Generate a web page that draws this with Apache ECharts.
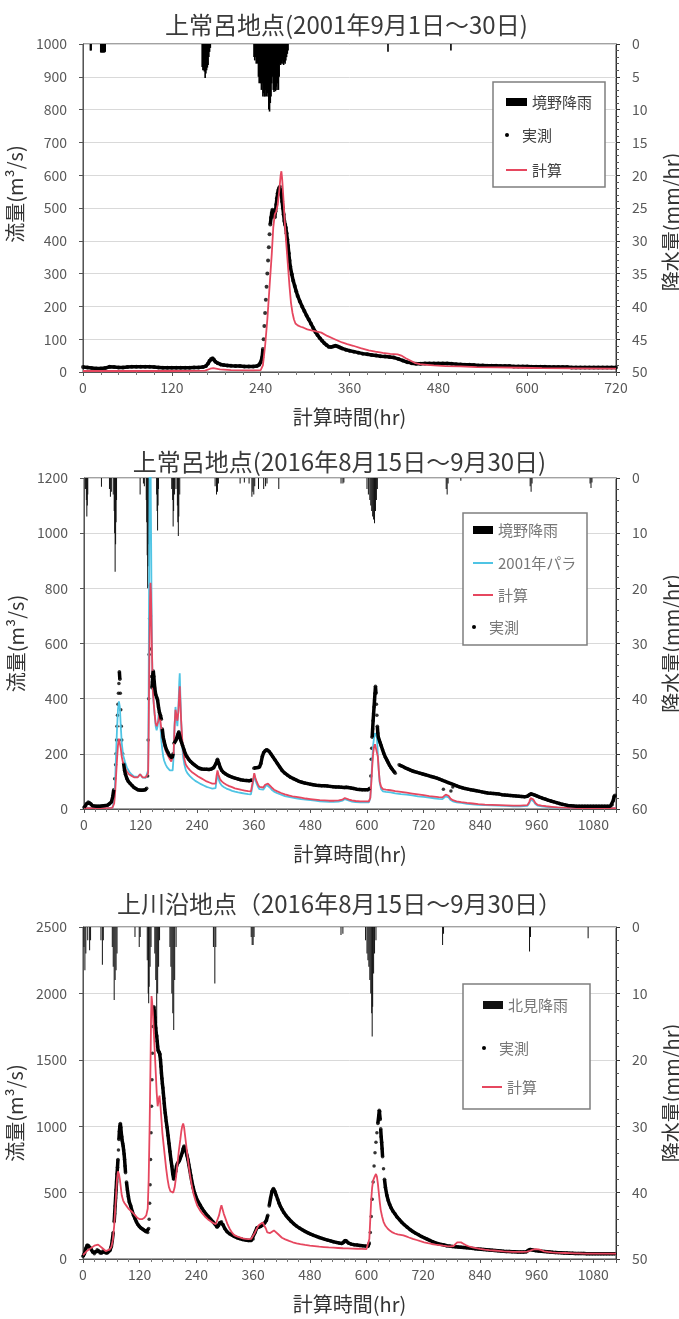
<!DOCTYPE html>
<html>
<head>
<meta charset="utf-8">
<script src="https://cdn.jsdelivr.net/npm/echarts@6/dist/echarts.min.js"></script>
<style>
  html, body { margin: 0; padding: 0; background: #fff; }
  #main { width: 679px; height: 1319px; }
</style>
</head>
<body>
<div id="main"></div>
<script>
// ---- data (hour, value) ----
// 上常呂 2001
var rain1 = [[10,1.0],[11,1.0],[24,1.3],[25,1.3],[26,1.3],[27,1.3],[28,1.3],[29,1.3],[30,1.2],
  [161,3.5],[162,4.0],[163,4.0],[164,4.2],[165,5.2],[166,4.5],[167,4.0],[168,3.6],[169,3.2],[170,2.0],[171,1.2],[172,0.6],
  [231,2.0],[232,2.5],[233,2.0],[234,3.0],[235,2.5],[236,3.0],[237,5.0],[238,6.0],[239,5.5],[240,6.0],[241,7.0],[242,6.0],
  [243,8.0],[244,7.5],[245,8.0],[246,8.0],[247,7.0],[248,8.0],[249,7.5],[250,8.0],[251,10.0],[252,10.3],[253,9.0],[254,8.0],
  [255,6.0],[256,5.0],[257,7.0],[258,7.3],[259,7.0],[260,7.2],[261,6.5],[262,7.0],[263,6.0],[264,7.0],[265,5.0],[266,3.0],
  [267,3.2],[268,3.0],[269,2.5],[270,3.0],[271,3.2],[272,2.8],[273,3.0],[274,2.5],[275,2.0],[276,1.5],[277,1.0],
  [412,1.2],[497,1.0]];
var obs1 = [[0,15],[6,14],[12,12],[18,11],[24,11],[30,12],[36,16],[42,15],[48,14],[54,14],[60,15],[66,16],[72,16],[78,16],
  [84,16],[90,16],[96,15],[102,14],[108,13],[114,13],[120,13],[126,13],[132,13],[138,13],[144,13],[150,14],[156,14],[162,15],
  [166,18],[169,26],[171,34],[173,40],[175,42],[177,37],[179,31],[182,27],[186,23],[190,21],[195,20],[200,19],[206,18],[212,18],
  [218,17],[224,17],[230,17],[235,18],[238,22],[240,30],[242,45],[243,70],[244,100],[245,140],[246,180],[247,220],[248,260],
  [249,300],[250,340],[251,380],[252,420],[253,450],[254,470],[255,485],[256,495],[257,490],[258,480],[259,472],[260,490],
  [261,510],[262,530],[263,545],[264,555],[265,562],[266,565],[267,555],[268,540],[269,520],[270,500],[271,480],[272,460],
  [273,450],[274,440],[275,423],[276,405],[277,385],[278,362],[279,340],[280,322],[282,298],[284,278],[286,262],[288,246],
  [290,232],[293,215],[296,200],[299,186],[302,172],[305,160],[308,147],[311,134],[314,122],[317,112],[320,103],[323,95],
  [326,88],[329,82],[332,77],[335,76],[338,78],[341,80],[344,78],[347,75],[350,72],[355,68],[360,65],[366,62],[372,59],
  [378,56],[384,54],[390,52],[396,50],[402,48],[408,47],[414,46],[420,44],[426,40],[432,35],[438,30],[444,27],[450,25],
  [456,25],[462,26],[468,26],[474,26],[480,26],[486,26],[492,26],[498,25],[504,24],[510,23],[516,22],[522,22],[528,21],
  [534,20],[540,20],[546,19],[552,19],[558,19],[564,18],[570,18],[576,18],[582,17],[588,17],[594,17],[600,17],[606,16],
  [612,16],[618,16],[624,16],[630,15],[636,15],[642,15],[648,15],[654,15],[660,14],[666,14],[672,14],[678,14],[684,14],
  [690,14],[696,14],[702,14],[708,14],[714,14],[720,14]];
var calc1 = [[0,3],[60,3],[120,3],[165,4],[172,10],[176,12],[185,8],[200,6],[230,5],[240,6],[243,20],[246,80],[249,160],
  [252,260],[255,360],[257,440],[259,480],[261,490],[263,510],[265,550],[267,600],[268,612],[269,590],[271,520],[273,440],
  [275,380],[277,320],[279,260],[281,210],[283,180],[285,160],[287,148],[290,142],[294,138],[298,135],[303,130],[310,126],
  [316,123],[322,120],[330,110],[340,100],[350,90],[357,85],[365,80],[375,73],[386,66],[395,62],[405,58],[415,55],[425,54],
  [430,50],[436,42],[442,35],[448,28],[455,24],[465,22],[474,20],[490,18],[510,17],[532,15],[560,14],[591,13],[620,12],
  [660,11],[720,10]];

// 上常呂 2016
var rain2 = [[3,2],[5,4],[6,7],[7,5],[8,3],[37,1.6],[54,2],[56,3.4],[58,2.5],[62,3],[64,6],[65,10],[66,17],[67,12],[68,8],
  [69,4],[119,3],[126,1],[128,1.5],[132,4],[133,8],[134,14],[135,20],[136,16],[137,12],[138,8],[139,5],[140,3],[154,3],
  [155,6],[156,9.5],[157,5],[158,2],[186,2],[188,4],[189,8.8],[190,6],[192,3],[195,2],[198,5],[199,8],[200,10.5],[201,7],
  [203,3],[278,1.5],[281,3],[283,2.5],[285,1],[331,1],[340,0.8],[350,1],[356,3.4],[358,2.5],[360,3],[362,1.5],[370,2],
  [381,2],[385,1.5],[388,1],[413,2],[545,1],[549,1],[551,0.8],[600,2],[603,3],[606,4],[608,5],[610,6],[612,7],[614,7.5],
  [616,8.2],[618,6],[620,4],[622,2],[768,2],[770,3],[772,1],[799,0.5],[946,1.5],[948,2.5],[950,1],[1073,1],[1075,1.8],[1077,0.8]];
var obs2 = [[0,5],[3,10],[6,20],[9,25],[12,22],[15,18],[18,12],[22,10],[26,10],[30,10],[34,10],[38,11],[42,12],[46,12],
  [50,14],[54,18],[58,25],[61,45],[63,70],[65,110],[67,160],[68,200],[69,250],[70,300],[71,340],[72,380],[73,420],[74,455],
  [75,498],[76,470],[77,420],[78,360],[79,300],[80,250],[82,200],[84,165],[86,140],[88,125],[91,110],[94,100],[98,92],
  [102,85],[106,78],[110,74],[114,70],[118,68],[122,68],[126,68],[130,70],[133,75],[135,120],[136,250],[137,400],[138,560],
  [139,690],[140,810],[141,700],[142,580],[143,480],[144,440],[145,460],[146,490],[147,500],[148,480],[149,460],[150,440],
  [152,415],[154,405],[156,395],[158,370],[160,350],[162,340],[164,325],[166,290],[168,260],[170,245],[172,230],[175,215],
  [178,205],[181,195],[184,188],[187,185],[189,200],[191,238],[193,245],[195,250],[197,255],[199,270],[201,280],[203,265],
  [205,250],[207,240],[209,230],[212,215],[215,200],[218,190],[222,180],[226,172],[230,165],[234,160],[238,155],[242,150],
  [246,146],[250,145],[255,144],[260,144],[265,143],[270,145],[275,150],[280,165],[283,180],[286,165],[289,150],[292,140],
  [296,132],[300,127],[305,122],[310,118],[315,115],[320,112],[326,109],[332,106],[338,104],[344,103],[350,102],[356,105],
  [360,148],[363,150],[366,150],[369,150],[372,152],[375,165],[378,190],[381,205],[384,212],[387,215],[390,213],[393,208],
  [396,200],[400,190],[405,178],[410,165],[415,152],[420,140],[426,130],[432,122],[438,115],[444,110],[450,105],[456,100],
  [462,97],[468,94],[474,92],[480,90],[486,88],[492,86],[498,85],[504,84],[510,84],[516,83],[522,82],[528,81],[534,80],
  [540,80],[546,79],[552,78],[556,80],[560,78],[566,76],[572,74],[578,72],[584,71],[590,70],[596,70],[602,70],[606,75],
  [608,120],[609,180],[610,220],[611,260],[612,290],[613,320],[614,345],[615,370],[616,395],[617,420],[618,445],[619,420],
  [620,380],[621,340],[622,300],[623,275],[624,260],[626,250],[628,240],[630,230],[633,215],[636,200],[639,188],[642,178],
  [645,168],[648,158],[651,150],[654,143],[657,136],[660,130],
  [668,160],[672,157],[676,154],[680,150],[684,147],[688,144],[692,141],[696,138],[700,136],[706,133],[712,130],[718,127],
  [724,124],[730,121],[736,118],[742,115],[748,112],[754,108],[760,104],[766,100],[772,96],[778,92],
  [784,88],[790,84],[796,80],[802,77],[808,74],[814,72],[820,70],[826,68],[832,66],[838,64],[844,62],[850,60],
  [856,58],[862,57],[868,56],[874,55],[880,54],[886,52],[892,51],[898,50],[904,49],[910,48],[916,47],[922,46],[928,45],
  [934,44],[940,46],[944,52],[948,55],[952,53],[956,50],[960,47],[966,43],[972,39],[978,36],[984,32],[990,29],[996,26],
  [1002,23],[1008,20],[1014,17],[1020,15],[1026,13],[1032,12],[1038,11],[1044,10],[1050,10],[1056,10],[1062,10],[1068,10],
  [1074,10],[1080,10],[1086,10],[1092,10],[1098,10],[1104,10],[1110,10],[1116,10],[1120,15],[1122,30],[1124,45],[1126,50]];
var obs2Stray = [[762,72],[778,65],[782,80]];
var calc2 = [[0,3],[20,3],[40,3],[60,4],[64,20],[66,60],[68,120],[70,180],[72,230],[74,255],[75,260],[76,250],[78,220],
  [80,190],[83,165],[87,150],[91,135],[96,125],[101,120],[106,115],[110,112],[114,115],[117,122],[119,126],[121,120],
  [124,115],[128,112],[131,115],[134,122],[136,130],[137,250],[138,450],[139,620],[140,760],[141,820],[142,780],[143,680],
  [144,580],[145,500],[146,430],[148,380],[150,340],[152,310],[154,300],[156,298],[158,320],[160,350],[162,320],[164,290],
  [166,265],[168,245],[170,228],[173,212],[176,200],[179,190],[182,180],[185,172],[188,168],[190,200],[192,300],[194,360],
  [196,340],[198,320],[200,350],[202,420],[203,445],[204,400],[206,320],[208,260],[210,215],[213,180],[216,160],[220,150],
  [225,140],[230,132],[236,125],[242,118],[248,112],[254,106],[260,100],[266,96],[272,92],[276,90],[279,92],[281,120],
  [283,140],[285,125],[288,110],[292,100],[297,93],[302,88],[308,83],[314,79],[320,75],[327,72],[334,69],[341,67],[348,65],
  [354,64],[357,66],[359,110],[361,130],[363,115],[366,100],[369,88],[372,80],[376,76],[380,78],[384,88],[387,95],[390,92],
  [394,85],[398,78],[403,70],[410,64],[418,58],[426,53],[434,49],[442,46],[450,44],[460,41],[470,38],[480,36],[490,34],
  [500,32],[510,31],[520,30],[530,30],[540,31],[548,34],[553,40],[557,40],[562,34],[568,31],[576,29],[586,28],[596,28],
  [604,28],[607,40],[609,90],[611,150],[613,200],[615,225],[617,235],[619,242],[621,230],[623,190],[625,140],[627,100],
  [630,80],[634,72],[640,70],[650,68],[660,65],[672,62],[684,59],[696,56],[708,53],[720,50],[732,47],[742,45],[752,43],
  [760,42],[764,44],[767,52],[770,57],[773,48],[777,38],[782,32],[790,28],[800,25],[812,22],[824,20],[836,18],[850,16],
  [865,15],[880,14],[895,13],[910,12],[925,12],[940,14],[944,25],[947,40],[950,45],[953,34],[957,22],[962,15],[970,12],
  [980,10],[992,8],[1004,6],[1016,5],[1030,4],[1050,3],[1070,3],[1090,3],[1110,3],[1128,3]];
var para2 = [[0,3],[40,3],[60,4],[64,30],[66,100],[68,200],[70,290],[72,360],[74,390],[75,395],[76,370],[78,300],[80,240],
  [83,195],[87,170],[91,150],[96,135],[101,125],[106,118],[110,114],[114,116],[117,123],[119,126],[121,120],[124,114],
  [128,110],[131,113],[134,120],[136,140],[137,400],[138,800],[139,1200],[140,1350],[141,1300],[142,1050],[143,800],
  [144,600],[145,480],[146,420],[148,380],[150,340],[152,300],[154,285],[156,300],[158,340],[160,360],[162,300],[164,250],
  [166,215],[168,190],[170,175],[173,162],[176,152],[179,146],[182,140],[185,136],[188,140],[190,190],[192,300],[194,370],
  [196,330],[198,300],[200,360],[202,460],[203,492],[204,430],[206,320],[208,240],[210,190],[213,160],[216,140],[220,128],
  [225,118],[230,110],[236,102],[242,96],[248,90],[254,85],[260,80],[266,77],[272,74],[276,73],[279,76],[281,105],[283,125],
  [285,110],[288,95],[292,85],[297,79],[302,74],[308,70],[314,66],[320,63],[327,60],[334,58],[341,56],[348,54],[354,53],
  [357,56],[359,100],[361,125],[363,108],[366,92],[369,80],[372,72],[376,68],[380,70],[384,80],[387,88],[390,85],[394,78],
  [398,70],[403,63],[410,57],[418,52],[426,47],[434,44],[442,41],[450,39],[460,36],[470,34],[480,32],[490,30],[500,28],
  [510,27],[520,26],[530,26],[540,27],[548,30],[553,36],[557,36],[562,30],[568,27],[576,25],[586,24],[596,24],[604,24],
  [607,40],[609,100],[611,170],[613,230],[615,260],[617,275],[619,280],[621,260],[623,200],[625,140],[627,95],[630,72],
  [634,64],[640,62],[650,60],[660,57],[672,54],[684,52],[696,49],[708,46],[720,44],[732,41],[742,39],[752,37],[760,36],
  [764,38],[767,46],[770,50],[773,42],[777,33],[782,28],[790,24],[800,22],[812,19],[824,17],[836,15],[850,14],[865,13],
  [880,12],[895,11],[910,10],[925,10],[940,11],[944,20],[947,34],[950,38],[953,28],[957,18],[962,12],[970,10],[980,8],
  [992,6],[1004,5],[1016,4],[1030,3],[1050,3],[1128,3]];

// 上川沿 2016
var rain3 = [[2,3],[4,6.5],[6,4],[10,2],[14,3.5],[16,2],[38,2],[41,5.7],[43,2],[62,3],[64,6],[66,11],[68,8],[70,6.5],
  [72,4],[110,1.5],[119,3],[121,1.5],[136,5],[138,10],[139,11.5],[140,9],[142,6],[144,3],[152,4],[154,8],[156,14.5],
  [158,10],[160,6],[162,2],[184,3],[186,6],[188,10],[190,13],[192,15.5],[194,8],[197,3],[276,3],[279,8.5],[281,3],
  [356,1.5],[358,2.7],[360,2.7],[362,1.5],[546,1.2],[550,1],[598,2],[601,4],[603,5],[605,6],[607,8],[609,10],[611,13],
  [612,16.5],[613,12],[615,7],[617,4],[620,2],[761,2.7],[763,1],[945,3.7],[947,1.5],[1069,1.7]];
var obs3 = [[0,20],[3,40],[6,80],[9,105],[12,100],[15,85],[18,70],[21,50],[24,40],[27,55],[30,70],[33,60],[36,45],[39,45],
  [42,60],[45,55],[48,45],[51,45],[54,55],[57,65],[60,95],[62,140],[64,200],[66,280],[67,340],[68,400],[69,460],[70,520],
  [71,580],[72,640],[73,690],[74,750],[75,820],[76,900],[77,960],[78,1000],[79,1020],[80,990],[81,950],[82,920],[83,890],
  [84,870],[85,850],[86,820],[87,790],[88,750],[89,700],[90,650],[92,580],[94,520],[96,470],[98,430],[101,400],[104,360],
  [107,330],[110,305],[113,280],[116,260],[119,245],[122,235],[125,228],[128,220],[131,212],[134,205],[137,200],[139,230],
  [140,300],[141,420],[142,560],[143,750],[144,950],[145,1150],[146,1350],[147,1550],[148,1750],[149,1880],[150,1900],
  [151,1860],[152,1820],[153,1780],[154,1740],[155,1700],[156,1680],[157,1640],[158,1600],[159,1570],[160,1560],[161,1560],
  [162,1550],[163,1540],[164,1500],[165,1450],[166,1400],[167,1360],[168,1320],[169,1290],[170,1250],[171,1210],[172,1170],
  [173,1130],[174,1100],[175,1070],[176,1040],[178,990],[180,930],[182,870],[184,810],[186,750],[188,700],[190,640],
  [192,600],[194,620],[196,660],[198,700],[200,720],[202,730],[204,740],[206,760],[208,780],[210,800],[212,830],[214,850],
  [216,840],[218,810],[220,780],[222,750],[224,710],[226,670],[228,630],[230,590],[233,540],[236,500],[240,460],[244,430],
  [248,405],[252,380],[256,360],[260,340],[265,320],[270,300],[275,280],[280,260],[284,240],[287,250],[290,275],[293,280],
  [296,260],[300,230],[305,205],[310,190],[315,180],[320,170],[326,160],[332,153],[338,147],[344,143],[350,140],[356,140],
  [360,150],[364,200],[368,235],[372,240],[376,245],[380,255],[384,270],[388,290],[391,330],[394,400],[397,460],[400,510],
  [403,530],[406,510],[409,480],[412,450],[415,420],[418,395],[421,375],[425,350],[430,325],[435,305],[440,285],[446,265],
  [452,248],[458,233],[464,220],[470,208],[476,197],[482,187],[488,178],[494,170],[500,162],[506,155],[512,148],[518,142],
  [524,136],[530,130],[536,125],[542,120],[548,117],[552,125],[555,140],[558,135],[562,120],[568,112],[574,108],[580,105],
  [586,102],[592,99],[598,97],[603,95],[606,120],[608,200],[610,320],[612,450],[614,580],[616,700],[618,800],[620,880],
  [622,950],[624,1020],[626,1080],[627,1120],[628,1110],[629,1050],[630,980],[631,920],[632,880],[633,830],[634,770],
  [636,680],[638,600],[640,540],[643,480],[646,440],[649,410],[652,385],[656,360],[660,340],[665,315],[670,295],[675,275],
  [680,258],[686,240],[692,222],[698,207],[704,194],[710,182],[716,170],[722,160],[728,150],[734,140],[740,130],[746,122],
  [752,115],[758,110],[764,105],[770,100],[776,97],[782,94],[788,92],[794,90],[800,88],[806,86],[812,84],[818,82],[824,80],
  [830,78],[836,76],[842,74],[848,72],[854,70],[860,68],[866,66],[872,64],[878,62],[884,60],[890,58],[896,57],[902,56],
  [908,55],[914,54],[920,53],[926,52],[932,52],[938,55],[942,65],[946,72],[950,70],[954,66],[958,62],[964,60],[970,58],
  [976,56],[982,54],[988,52],[994,50],[1000,49],[1006,48],[1012,47],[1018,46],[1024,45],[1030,44],[1036,43],[1042,42],
  [1048,42],[1054,41],[1060,41],[1066,40],[1072,40],[1078,40],[1084,40],[1090,40],[1096,40],[1102,40],[1108,40],[1114,40],
  [1120,40],[1126,40]];
var calc3 = [[0,30],[4,40],[8,60],[12,70],[16,80],[20,90],[24,100],[28,110],[32,108],[36,100],[40,85],[44,70],[48,60],
  [52,62],[56,70],[60,90],[63,140],[66,250],[69,420],[72,600],[74,660],[76,640],[78,600],[80,540],[82,480],[85,440],
  [88,420],[92,400],[96,380],[100,370],[105,350],[110,330],[115,310],[120,300],[125,300],[130,310],[134,330],[137,380],
  [139,600],[141,1000],[143,1500],[144,1800],[145,1980],[146,1950],[148,1850],[150,1700],[152,1550],[154,1400],[156,1250],
  [158,1150],[160,1200],[162,1230],[164,1150],[166,1050],[168,950],[170,880],[173,780],[176,680],[179,600],[182,540],
  [185,510],[188,495],[191,500],[194,540],[197,620],[200,720],[203,820],[206,900],[208,960],[210,1000],[212,1020],
  [214,990],[216,930],[219,840],[222,750],[225,670],[228,600],[231,540],[234,490],[238,440],[242,400],[247,370],[252,345],
  [258,320],[264,300],[270,285],[276,270],[281,262],[285,275],[288,330],[291,380],[293,405],[295,390],[298,340],[302,300],
  [306,260],[310,230],[315,200],[320,180],[326,170],[332,162],[338,156],[344,152],[350,150],[356,152],[360,165],[364,200],
  [368,230],[372,255],[376,270],[380,275],[384,265],[387,230],[390,200],[393,185],[396,195],[400,210],[404,215],[408,205],
  [412,190],[416,175],[421,160],[428,148],[436,136],[444,126],[452,118],[460,112],[470,106],[480,101],[490,97],[500,93],
  [510,90],[520,87],[530,85],[540,83],[550,81],[560,80],[570,78],[580,77],[590,76],[600,75],[604,80],[606,150],[608,300],
  [610,450],[612,540],[614,590],[616,610],[618,625],[620,640],[622,620],[624,570],[626,500],[628,430],[630,370],[633,320],
  [636,280],[640,250],[645,228],[650,212],[655,200],[660,192],[666,186],[672,182],[678,178],[684,170],[690,162],[698,152],
  [706,143],[714,134],[722,126],[730,119],[738,113],[746,108],[754,104],[762,100],[770,97],[778,95],[784,98],[788,110],
  [792,125],[796,130],[800,125],[805,115],[810,105],[816,96],[824,88],[832,82],[840,76],[850,71],[860,67],[870,64],
  [880,61],[890,58],[900,56],[910,54],[920,53],[930,53],[940,55],[946,62],[952,70],[958,74],[964,72],[970,66],[976,58],
  [984,53],[992,50],[1000,48],[1010,46],[1020,45],[1030,44],[1040,43],[1050,42],[1060,41],[1070,40],[1080,40],[1090,40],
  [1100,40],[1110,40],[1128,40]];

var FONT = "'Noto Sans CJK JP', 'Noto Sans', sans-serif";
var RED = '#e6475f';
var CYAN = '#4fc4e4';

// the measured dots are so dense they read as a thick line where flow changes slowly;
// join neighbours only there, leave steep stretches as separate dots
function slowParts(pts, max) {
  var out = [];
  for (var i = 0; i < pts.length; i++) {
    if (i > 0) {
      var dt = pts[i][0] - pts[i - 1][0];
      var dv = Math.abs(pts[i][1] - pts[i - 1][1]);
      if (dt > 7 || dv > 0.025 * max) out.push([pts[i][0], '-']);
    }
    out.push(pts[i]);
  }
  return out;
}

function xAx(g, max) {
  return {
    type: 'value', gridIndex: g, min: 0, max: max, interval: 120,
    name: '計算時間(hr)', nameLocation: 'middle', nameGap: 35,
    nameTextStyle: { fontSize: 20, color: '#333', fontFamily: FONT },
    axisLine: { show: true, onZero: false, lineStyle: { color: '#555' } },
    axisTick: { show: true, length: 4, lineStyle: { color: '#555' } },
    minorTick: { show: true, splitNumber: 5, length: 3, lineStyle: { color: '#777' } },
    axisLabel: { fontSize: 14, color: '#595959', margin: 9, fontFamily: FONT,
      formatter: function (v) { return v % 120 === 0 ? String(v) : ''; } },
    splitLine: { show: false }
  };
}
// pad shifts the rotated name along the axis
function namePad(pad) {
  return pad > 0 ? [0, 0, 0, 2 * pad] : (pad < 0 ? [0, -2 * pad, 0, 0] : 0);
}
function leftAx(g, max, step, pad) {
  return {
    type: 'value', gridIndex: g, min: 0, max: max, interval: step,
    name: '流量(m³/s)', nameLocation: 'middle', nameGap: 50,
    nameTextStyle: { fontSize: 20, color: '#333', fontFamily: FONT, padding: namePad(pad) },
    axisLine: { show: true, lineStyle: { color: '#555' } },
    axisTick: { show: true, length: 4, lineStyle: { color: '#555' } },
    axisLabel: { fontSize: 14, color: '#595959', margin: 16, fontFamily: FONT,
      formatter: function (v) { return String(v); } },
    splitLine: { show: true, lineStyle: { color: '#d9d9d9' } }
  };
}
function rightAx(g, max, step, pad) {
  return {
    type: 'value', gridIndex: g, position: 'right', inverse: true, min: 0, max: max, interval: step,
    name: '降水量(mm/hr)', nameLocation: 'middle', nameGap: 45,
    nameTextStyle: { fontSize: 20, color: '#333', fontFamily: FONT, padding: namePad(pad) },
    axisLine: { show: true, lineStyle: { color: '#333' } },
    axisTick: { show: true, length: 4, lineStyle: { color: '#333' } },
    minorTick: { show: true, splitNumber: 5, length: 3, lineStyle: { color: '#555' } },
    axisLabel: { fontSize: 14, color: '#595959', margin: 16, fontFamily: FONT,
      formatter: function (v) { return String(v); } },
    splitLine: { show: false }
  };
}
function legendItem(name, left, top, w, h, icon, color) {
  return {
    data: [{ name: name, icon: icon }], left: left, top: top, padding: 0,
    itemWidth: w, itemHeight: h, z: 6,
    textStyle: { fontSize: 15, color: color, fontFamily: FONT, lineHeight: 16 }
  };
}
function box(x, y, w, h) {
  return { type: 'rect', z: 5, shape: { x: x, y: y, width: w, height: h },
    style: { fill: '#fff', stroke: '#7f7f7f', lineWidth: 1.5 } };
}
function gridAt(left, top, height) {
  return { left: left, right: 63, top: top, height: height, outerBoundsMode: 'none', containLabel: false,
    show: true, borderColor: '#444', borderWidth: 1, backgroundColor: 'transparent' };
}
function obsSeries(x, y, pts, max, dot, lw) {
  return [
    { name: '実測', type: 'line', xAxisIndex: x, yAxisIndex: y, data: slowParts(pts, max), symbol: 'none',
      connectNulls: false, lineStyle: { color: '#000', width: lw }, itemStyle: { color: '#000' } },
    { name: '実測', type: 'scatter', xAxisIndex: x, yAxisIndex: y, data: pts, symbolSize: dot,
      itemStyle: { color: '#000' } }
  ];
}

var option = {
  animation: false,
  backgroundColor: '#fff',
  textStyle: { fontFamily: FONT },
  title: [
    { text: '上常呂地点(2001年9月1日～30日)', left: 165, top: 13, padding: 0,
      textStyle: { fontSize: 24, fontWeight: 'normal', color: '#3a3a3a', fontFamily: FONT } },
    { text: '上常呂地点(2016年8月15日～9月30日)', left: 'center', top: 450, padding: 0,
      textStyle: { fontSize: 24, fontWeight: 'normal', color: '#3a3a3a', fontFamily: FONT } },
    { text: '上川沿地点（2016年8月15日～9月30日）', left: 'center', top: 892, padding: 0,
      textStyle: { fontSize: 24, fontWeight: 'normal', color: '#3a3a3a', fontFamily: FONT } }
  ],
  grid: [gridAt(83, 44, 328), gridAt(84, 478, 331), gridAt(83, 927, 332)],
  xAxis: [xAx(0, 720), xAx(1, 1128), xAx(2, 1128)],
  yAxis: [leftAx(0, 1000, 100, 14), rightAx(0, 50, 5, -14),
          leftAx(1, 1200, 200, 0), rightAx(1, 60, 10, 0),
          leftAx(2, 2500, 500, -20), rightAx(2, 50, 10, 0)],
  graphic: [box(493, 82, 112, 105), box(463, 513, 124, 132), box(463, 984, 127, 125)],
  legend: [
    legendItem('境野降雨', 506, 94, 21, 8, 'rect', '#404040'),
    legendItem('実測', 505, 127, 20, 4, 'circle', '#404040'),
    legendItem('計算', 506, 162, 21, 2, 'rect', '#404040'),
    legendItem('境野降雨', 473, 522, 20, 8, 'rect', '#777'),
    legendItem('2001年パラ', 473, 555, 20, 2, 'rect', '#777'),
    legendItem('計算', 473, 587, 20, 2, 'rect', '#777'),
    legendItem('実測', 472, 619, 20, 4, 'circle', '#777'),
    legendItem('北見降雨', 483, 997, 20, 8, 'rect', '#777'),
    legendItem('実測', 482, 1040, 20, 4, 'circle', '#777'),
    legendItem('計算', 482, 1079, 20, 2, 'rect', '#777')
  ],
  series: [].concat(
    [{ name: '境野降雨', type: 'bar', xAxisIndex: 0, yAxisIndex: 1, data: rain1, barWidth: 1.6,
      itemStyle: { color: '#000' } }],
    obsSeries(0, 0, obs1, 1000, 4, 3.5),
    [{ name: '計算', type: 'line', xAxisIndex: 0, yAxisIndex: 0, data: calc1, symbol: 'none',
      lineStyle: { color: RED, width: 1.8 }, itemStyle: { color: RED } },

    { name: '境野降雨', type: 'bar', xAxisIndex: 1, yAxisIndex: 3, data: rain2, barWidth: 1,
      itemStyle: { color: '#111' } },
    { name: '2001年パラ', type: 'line', xAxisIndex: 1, yAxisIndex: 2, data: para2, symbol: 'none',
      lineStyle: { color: CYAN, width: 1.8 }, itemStyle: { color: CYAN } },
    { name: '計算', type: 'line', xAxisIndex: 1, yAxisIndex: 2, data: calc2, symbol: 'none',
      lineStyle: { color: RED, width: 1.8 }, itemStyle: { color: RED } }],
    obsSeries(1, 2, obs2, 1200, 3.5, 3.5),
    [{ name: '実測', type: 'scatter', xAxisIndex: 1, yAxisIndex: 2, data: obs2Stray, symbolSize: 3.5,
      itemStyle: { color: '#000' } },

    { name: '北見降雨', type: 'bar', xAxisIndex: 2, yAxisIndex: 5, data: rain3, barWidth: 1,
      itemStyle: { color: '#111' } }],
    obsSeries(2, 4, obs3, 2500, 3.5, 3.5),
    [{ name: '計算', type: 'line', xAxisIndex: 2, yAxisIndex: 4, data: calc3, symbol: 'none',
      lineStyle: { color: RED, width: 1.8 }, itemStyle: { color: RED } }]
  )
};

var chart = echarts.init(document.getElementById('main'), null, { renderer: 'canvas' });
chart.setOption(option);
</script>
</body>
</html>
